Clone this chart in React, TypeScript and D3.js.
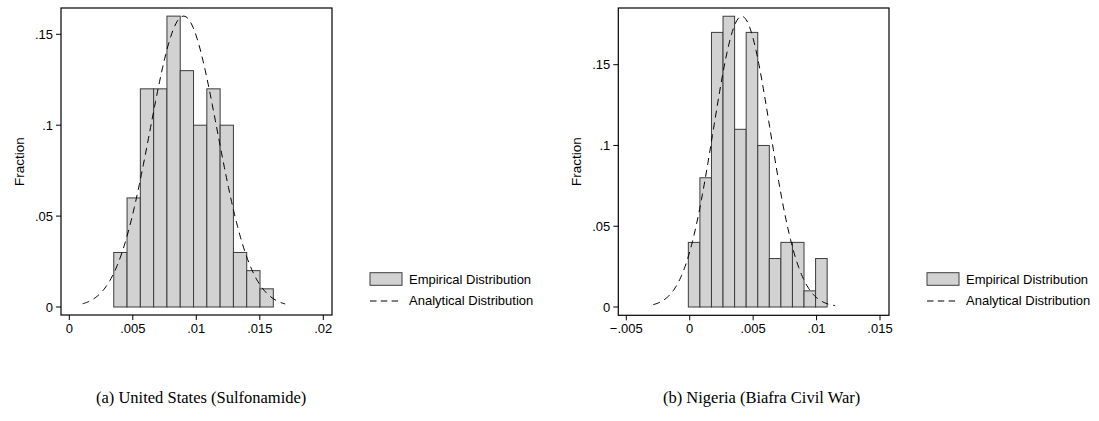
import React from 'react';
import * as d3 from 'd3';

// ---------- Data: (a) United States (Sulfonamide) ----------
const usFractions = [0.03, 0.06, 0.12, 0.12, 0.16, 0.13, 0.10, 0.12, 0.10, 0.03, 0.02, 0.01];
const usBinStart = 0.0035;
const usBinWidth = 0.001047;
const usAnalyticalMean = 0.009;
const usAnalyticalSd = 0.00265;
const usAnalyticalPeak = 0.16;
const usAnalyticalRange = [0.00105, 0.017];
const usXTicks = [0, 0.005, 0.01, 0.015, 0.02];
const usXTickLabels = ['0', '.005', '.01', '.015', '.02'];
const usYTicks = [0, 0.05, 0.1, 0.15];
const usYTickLabels = ['0', '.05', '.1', '.15'];

// ---------- Data: (b) Nigeria (Biafra Civil War) ----------
const ngFractions = [0.04, 0.08, 0.17, 0.18, 0.11, 0.17, 0.10, 0.03, 0.04, 0.04, 0.01, 0.03];
const ngBinStart = -0.00011;
const ngBinWidth = 0.000912;
const ngAnalyticalMean = 0.0041;
const ngAnalyticalSd = 0.00225;
const ngAnalyticalPeak = 0.18;
const ngAnalyticalRange = [-0.00287, 0.01146];
const ngXTicks = [-0.005, 0, 0.005, 0.01, 0.015];
const ngXTickLabels = ['\u2212.005', '0', '.005', '.01', '.015'];
const ngYTicks = [0, 0.05, 0.1, 0.15];
const ngYTickLabels = ['0', '.05', '.1', '.15'];

const legendLabels = ['Empirical Distribution', 'Analytical Distribution'];
const yAxisTitle = 'Fraction';
const captions = ['(a) United States (Sulfonamide)', '(b) Nigeria (Biafra Civil War)'];

const SANS = '"Liberation Sans", Arial, Helvetica, sans-serif';
const SERIF = '"Liberation Serif", "DejaVu Serif", serif';
const BAR_FILL = '#d2d2d2';
const BAR_STROKE = '#3c3c3c';

type PanelProps = {
  frame: { left: number; right: number; top: number; bottom: number };
  xDomain: [number, number];
  xRange: [number, number];
  yDomain: [number, number];
  yRange: [number, number];
  fractions: number[];
  binStart: number;
  binWidth: number;
  mean: number;
  sd: number;
  peak: number;
  curveRange: number[];
  xTicks: number[];
  xTickLabels: string[];
  yTicks: number[];
  yTickLabels: string[];
};

function Panel(p: PanelProps) {
  const x = d3.scaleLinear().domain(p.xDomain).range(p.xRange);
  const y = d3.scaleLinear().domain(p.yDomain).range(p.yRange);
  const { left, right, top, bottom } = p.frame;

  const bins = p.fractions.map((f, i) => ({
    x0: p.binStart + i * p.binWidth,
    x1: p.binStart + (i + 1) * p.binWidth,
    f,
  }));

  const n = 200;
  const [lo, hi] = p.curveRange;
  const curvePts = d3.range(n + 1).map((i) => {
    const v = lo + ((hi - lo) * i) / n;
    const z = (v - p.mean) / p.sd;
    return [v, p.peak * Math.exp(-0.5 * z * z)] as [number, number];
  });
  const line = d3
    .line<[number, number]>()
    .x((d) => x(d[0]))
    .y((d) => y(d[1]));

  const legX = right + 38;
  const midY = (top + bottom) / 2;

  return (
    <g>
      <rect x={left} y={top} width={right - left} height={bottom - top} fill="white" stroke="black" strokeWidth={1.2} />
      {bins.map((b, i) => (
        <rect
          key={i}
          x={x(b.x0)}
          y={y(b.f)}
          width={x(b.x1) - x(b.x0)}
          height={y(0) - y(b.f)}
          fill={BAR_FILL}
          stroke={BAR_STROKE}
          strokeWidth={1}
        />
      ))}
      <path d={line(curvePts) || ''} fill="none" stroke="black" strokeWidth={1} strokeDasharray="7,5" />
      {p.yTicks.map((t, i) => (
        <g key={'y' + i}>
          <line x1={left - 5} x2={left} y1={y(t)} y2={y(t)} stroke="black" strokeWidth={1} />
          <text x={left - 8} y={y(t)} textAnchor="end" dominantBaseline="central" fontFamily={SANS} fontSize={13}>
            {p.yTickLabels[i]}
          </text>
        </g>
      ))}
      {p.xTicks.map((t, i) => (
        <g key={'x' + i}>
          <line x1={x(t)} x2={x(t)} y1={bottom} y2={bottom + 5} stroke="black" strokeWidth={1} />
          <text x={x(t)} y={bottom + 18} textAnchor="middle" fontFamily={SANS} fontSize={13}>
            {p.xTickLabels[i]}
          </text>
        </g>
      ))}
      <text
        transform={`translate(${left - 37},${midY}) rotate(-90)`}
        textAnchor="middle"
        fontFamily={SANS}
        fontSize={13.5}
      >
        {yAxisTitle}
      </text>
      <rect x={legX} y={272.7} width={32} height={12.6} fill={BAR_FILL} stroke={BAR_STROKE} strokeWidth={1} />
      <text x={legX + 39} y={279} dominantBaseline="central" fontFamily={SANS} fontSize={13}>
        {legendLabels[0]}
      </text>
      <line x1={legX} x2={legX + 32} y1={301} y2={301} stroke="black" strokeWidth={1} strokeDasharray="6.5,4.3" />
      <text x={legX + 39} y={300.5} dominantBaseline="central" fontFamily={SANS} fontSize={13}>
        {legendLabels[1]}
      </text>
    </g>
  );
}

export default function App() {
  return (
    <svg
      width={1099}
      height={421}
      viewBox="0 0 1099 421"
      style={{ position: 'absolute', left: 0, top: 0, background: 'white' }}
    >
      <rect x={0} y={0} width={1099} height={421} fill="white" />
      <Panel
        frame={{ left: 61, right: 332, top: 8, bottom: 315 }}
        xDomain={[0, 0.02]}
        xRange={[69.3, 323.3]}
        yDomain={[0, 0.15]}
        yRange={[307, 34.3]}
        fractions={usFractions}
        binStart={usBinStart}
        binWidth={usBinWidth}
        mean={usAnalyticalMean}
        sd={usAnalyticalSd}
        peak={usAnalyticalPeak}
        curveRange={usAnalyticalRange}
        xTicks={usXTicks}
        xTickLabels={usXTickLabels}
        yTicks={usYTicks}
        yTickLabels={usYTickLabels}
      />
      <Panel
        frame={{ left: 618.3, right: 889, top: 8, bottom: 315.3 }}
        xDomain={[-0.005, 0.015]}
        xRange={[626.3, 880]}
        yDomain={[0, 0.15]}
        yRange={[307, 64.7]}
        fractions={ngFractions}
        binStart={ngBinStart}
        binWidth={ngBinWidth}
        mean={ngAnalyticalMean}
        sd={ngAnalyticalSd}
        peak={ngAnalyticalPeak}
        curveRange={ngAnalyticalRange}
        xTicks={ngXTicks}
        xTickLabels={ngXTickLabels}
        yTicks={ngYTicks}
        yTickLabels={ngYTickLabels}
      />
      <text x={96} y={403} fontFamily={SERIF} fontSize={16.5}>
        {captions[0]}
      </text>
      <text x={663} y={403} fontFamily={SERIF} fontSize={16.5}>
        {captions[1]}
      </text>
    </svg>
  );
}
